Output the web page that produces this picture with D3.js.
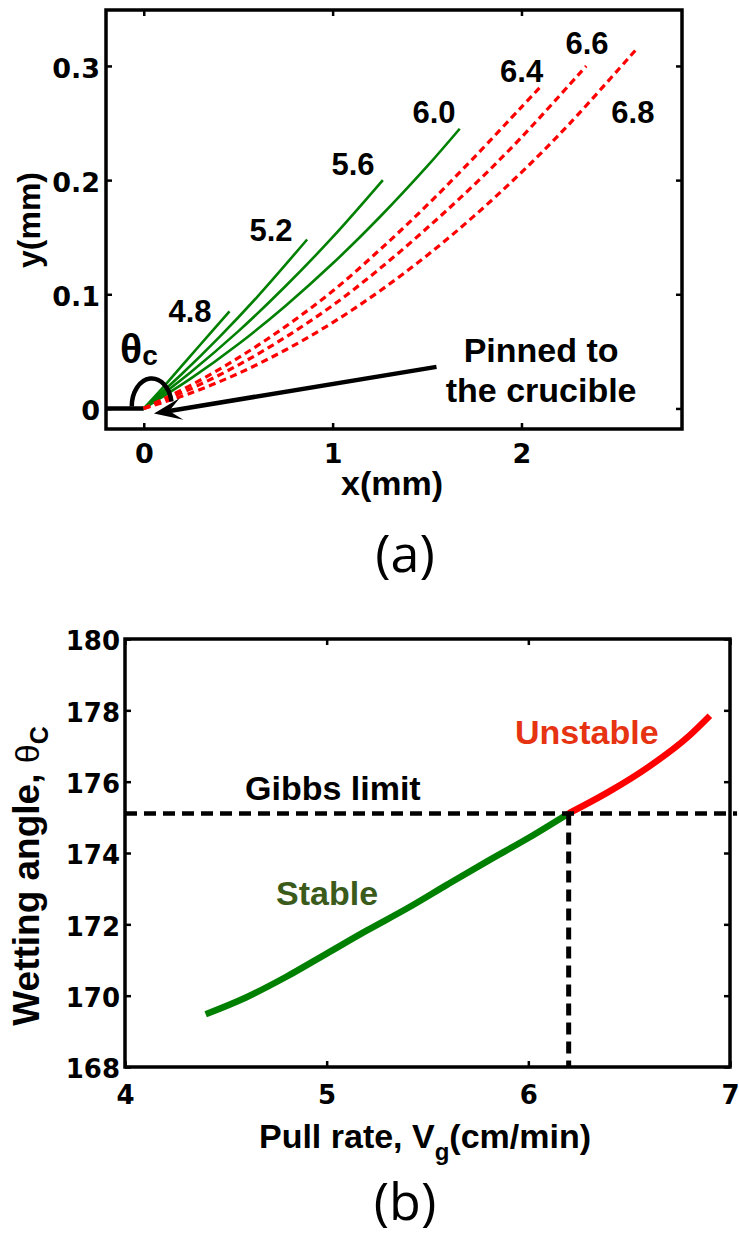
<!DOCTYPE html>
<html>
<head>
<meta charset="utf-8">
<script src="https://cdn.jsdelivr.net/npm/d3@7"></script>
<style>
  body { margin: 0; background: #fff; }
  svg { display: block; }
</style>
</head>
<body>
<svg id="fig" width="739" height="1245"></svg>
<script>
// ---------- Panel (a): meniscus profiles, x and y in mm ----------
const pullRatesA = [4.8, 5.2, 5.6, 6.0, 6.4, 6.6, 6.8];
const profile48 = [[0, 0], [0.1, 0.018], [0.2, 0.037], [0.3, 0.056], [0.454, 0.085]];
const profile52 = [[0, 0], [0.2, 0.030], [0.4, 0.0625], [0.6, 0.0976], [0.865, 0.148]];
const profile56 = [[0, 0], [0.25, 0.032], [0.5, 0.0675], [0.75, 0.107], [1.0, 0.150], [1.266, 0.200]];
const profile60 = [[0, 0], [0.25, 0.0263], [0.5, 0.0562], [0.75, 0.0898], [1.0, 0.1269], [1.25, 0.1677], [1.5, 0.212], [1.673, 0.245]];
const profile64 = [[0, 0], [0.25, 0.0204], [0.5, 0.0443], [0.75, 0.0717], [1.0, 0.1028], [1.25, 0.139], [1.5, 0.178], [1.75, 0.220], [2.0, 0.264], [2.105, 0.2825]];
const profile66 = [[0, 0], [0.25, 0.0173], [0.5, 0.038], [0.75, 0.0624], [1.0, 0.0902], [1.25, 0.1225], [1.5, 0.158], [1.75, 0.196], [2.0, 0.2375], [2.343, 0.300]];
const profile68 = [[0, 0], [0.25, 0.0136], [0.5, 0.0306], [0.75, 0.0512], [1.0, 0.0752], [1.25, 0.1029], [1.5, 0.134], [1.75, 0.1687], [2.0, 0.2068], [2.25, 0.2486], [2.61, 0.315]];
const profilesA = [profile48, profile52, profile56, profile60, profile64, profile66, profile68];
const xTicksA = [0, 1, 2];
const yTicksA = [0, 0.1, 0.2, 0.3];

// ---------- Panel (b): wetting angle vs pull rate ----------
const pullRateB = [4.4, 4.6, 4.8, 5.0, 5.2, 5.4, 5.6, 5.8, 6.0, 6.2, 6.4, 6.6, 6.8, 6.9];
const wettingAngle = [169.48, 169.95, 170.53, 171.18, 171.83, 172.45, 173.12, 173.78, 174.42, 175.11, 175.72, 176.43, 177.30, 177.85];
const gibbsLimit = 175.11;      // degrees
const criticalRate = 6.2;       // cm/min
const xTicksB = [4, 5, 6, 7];
const yTicksB = [168, 170, 172, 174, 176, 178, 180];

const svg = d3.select("#fig");
svg.append("rect").attr("width", 739).attr("height", 1245).attr("fill", "#fff");

const BOLD = "'Liberation Sans', Arial, Helvetica, sans-serif";
const TICKFONT = "'DejaVu Sans', sans-serif";

// Boxed axes with inward ticks on all four sides
function boxAxes(g, x, y, xt, yt, xfmt, yfmt, xpad, ypad, fontSize) {
  const [x0, x1] = x.range();
  const [y0, y1] = y.range();
  const bottom = g.append("g").attr("transform", `translate(0,${y0})`)
    .call(d3.axisBottom(x).tickValues(xt).tickSize(-6).tickPadding(xpad).tickFormat(xfmt));
  g.append("g").attr("transform", `translate(0,${y1})`)
    .call(d3.axisTop(x).tickValues(xt).tickSize(-6).tickFormat(""));
  const left = g.append("g").attr("transform", `translate(${x0},0)`)
    .call(d3.axisLeft(y).tickValues(yt).tickSize(-6).tickPadding(ypad).tickFormat(yfmt));
  g.append("g").attr("transform", `translate(${x1},0)`)
    .call(d3.axisRight(y).tickValues(yt).tickSize(-6).tickFormat(""));
  g.selectAll(".domain").remove();
  g.selectAll(".tick line").attr("stroke", "#000").attr("stroke-width", 2.5);
  g.selectAll(".tick text")
    .attr("font-family", TICKFONT).attr("font-weight", "bold")
    .attr("font-size", fontSize).attr("fill", "#000");
  left.selectAll(".tick text").attr("dy", "0.42em");
  g.append("rect").attr("x", x0).attr("y", y1)
    .attr("width", x1 - x0).attr("height", y0 - y1)
    .attr("fill", "none").attr("stroke", "#000").attr("stroke-width", 3.5);
}

// ================= Panel (a) =================
const xA = d3.scaleLinear().domain([-0.2, 2.85]).range([106, 682]);
const yA = d3.scaleLinear().domain([-0.018, 0.349]).range([429, 10]);
const gA = svg.append("g");

// crucible edge (horizontal) ending at the pinning point
gA.append("line")
  .attr("x1", xA(-0.2)).attr("x2", xA(0))
  .attr("y1", yA(0)).attr("y2", yA(0))
  .attr("stroke", "#000").attr("stroke-width", 4.5);

const lineA = d3.line().x(d => xA(d[0])).y(d => yA(d[1])).curve(d3.curveCatmullRom);
profilesA.forEach((p, i) => {
  const stable = pullRatesA[i] < criticalRate;
  gA.append("path").attr("d", lineA(p))
    .attr("fill", "none")
    .attr("stroke", stable ? "#008000" : "#ff0000")
    .attr("stroke-width", stable ? 2.6 : 3.2)
    .attr("stroke-dasharray", stable ? null : "7,4.5");
});

boxAxes(gA, xA, yA, xTicksA, yTicksA,
  d => d3.format("d")(d),
  d => d === 0 ? "0" : d3.format(".1f")(d), 15, 6, 27);

// curve labels (pull rate in cm/min)
const labelPosA = [[0.245, 0.0758], [0.674, 0.1468], [1.108, 0.2043], [1.537, 0.2501], [2.001, 0.286], [2.347, 0.3102], [2.59, 0.2501]];
pullRatesA.forEach((r, i) => {
  gA.append("text")
    .attr("x", xA(labelPosA[i][0])).attr("y", yA(labelPosA[i][1]))
    .attr("text-anchor", "middle")
    .attr("font-family", BOLD).attr("font-weight", "bold").attr("font-size", 31)
    .text(d3.format(".1f")(r));
});

// contact angle arc at the pinning point
{
  const cx = xA(0) + 8, cy = yA(0) - 2, rx = 20, ry = 28, a = 10 * Math.PI / 180;
  gA.append("path")
    .attr("d", `M${cx - rx},${cy} A${rx},${ry} 0 0 1 ${cx + rx * Math.cos(a)},${cy - ry * Math.sin(a)}`)
    .attr("fill", "none").attr("stroke", "#000").attr("stroke-width", 4.5);
  const t = gA.append("text")
    .attr("x", xA(-0.126)).attr("y", yA(0.0394))
    .attr("font-family", BOLD).attr("font-weight", "bold").attr("font-size", 41);
  t.append("tspan").text("θ");
  t.append("tspan").attr("font-size", 28).attr("dy", 2).text("c");
}

// "Pinned to the crucible" arrow
{
  const tail = [xA(1.55), yA(0.0364)];
  const tip = [xA(0.054), yA(-0.0044)];
  const dx = tip[0] - tail[0], dy = tip[1] - tail[1], len = Math.hypot(dx, dy);
  const ux = dx / len, uy = dy / len, nx = -uy, ny = ux;
  const L = 28, W = 11;
  const notch = [tip[0] - 0.55 * L * ux, tip[1] - 0.55 * L * uy];
  gA.append("line")
    .attr("x1", tail[0]).attr("y1", tail[1]).attr("x2", notch[0]).attr("y2", notch[1])
    .attr("stroke", "#000").attr("stroke-width", 4.5);
  gA.append("path")
    .attr("d", `M${tip[0]},${tip[1]} L${tip[0] - L * ux + W * nx},${tip[1] - L * uy + W * ny} L${notch[0]},${notch[1]} L${tip[0] - L * ux - W * nx},${tip[1] - L * uy - W * ny} Z`)
    .attr("fill", "#000");
  [["Pinned to", 0.0408], ["the crucible", 0.0058]].forEach(([s, yy]) => {
    gA.append("text").attr("x", xA(2.104)).attr("y", yA(yy))
      .attr("text-anchor", "middle")
      .attr("font-family", BOLD).attr("font-weight", "bold").attr("font-size", 34)
      .text(s);
  });
}

// axis titles
gA.append("text").attr("x", 392).attr("y", 495).attr("text-anchor", "middle")
  .attr("font-family", BOLD).attr("font-weight", "bold").attr("font-size", 34).text("x(mm)");
gA.append("text").attr("transform", "translate(40,220) rotate(-90)").attr("text-anchor", "middle")
  .attr("font-family", BOLD).attr("font-weight", "bold").attr("font-size", 32).text("y(mm)");
gA.append("text").attr("x", 405).attr("y", 572).attr("text-anchor", "middle")
  .attr("font-family", "'Open Sans', sans-serif").attr("font-size", 52).text("(a)");

// ================= Panel (b) =================
const xB = d3.scaleLinear().domain([4, 7]).range([125, 730]);
const yB = d3.scaleLinear().domain([168, 180]).range([1067, 639]);
const gB = svg.append("g");

const pts = pullRateB.map((v, i) => [v, wettingAngle[i]]);
const stablePts = pts.filter(d => d[0] <= criticalRate);
const unstablePts = pts.filter(d => d[0] >= criticalRate);
const lineB = d3.line().x(d => xB(d[0])).y(d => yB(d[1])).curve(d3.curveMonotoneX);

gB.append("path").attr("d", lineB(stablePts))
  .attr("fill", "none").attr("stroke", "#008000").attr("stroke-width", 6.5);
gB.append("path").attr("d", lineB(unstablePts))
  .attr("fill", "none").attr("stroke", "#ff0000").attr("stroke-width", 6.5);

// Gibbs limit markers
gB.append("line")
  .attr("x1", xB(4)).attr("x2", xB(7.035))
  .attr("y1", yB(gibbsLimit)).attr("y2", yB(gibbsLimit))
  .attr("stroke", "#000").attr("stroke-width", 4.5).attr("stroke-dasharray", "12,7");
gB.append("line")
  .attr("x1", xB(criticalRate)).attr("x2", xB(criticalRate))
  .attr("y1", yB(gibbsLimit)).attr("y2", yB(168))
  .attr("stroke", "#000").attr("stroke-width", 5).attr("stroke-dasharray", "12,7");

boxAxes(gB, xB, yB, xTicksB, yTicksB, d3.format("d"), d3.format("d"), 19, 5, 26);

gB.append("text").attr("x", xB(4.595)).attr("y", yB(175.49))
  .attr("font-family", BOLD).attr("font-weight", "bold").attr("font-size", 34).text("Gibbs limit");
gB.append("text").attr("x", xB(5.934)).attr("y", yB(177.07))
  .attr("font-family", BOLD).attr("font-weight", "bold").attr("font-size", 34)
  .attr("fill", "#e63312").text("Unstable");
gB.append("text").attr("x", xB(4.749)).attr("y", yB(172.54))
  .attr("font-family", BOLD).attr("font-weight", "bold").attr("font-size", 34)
  .attr("fill", "#3b5b1b").text("Stable");

// axis titles
{
  const t = gB.append("text").attr("x", 425).attr("y", 1148).attr("text-anchor", "middle")
    .attr("font-family", BOLD).attr("font-weight", "bold").attr("font-size", 34);
  t.append("tspan").text("Pull rate, V");
  t.append("tspan").attr("font-size", 24).attr("dy", 12).text("g");
  t.append("tspan").attr("dy", -12).text("(cm/min)");
}
{
  const t = gB.append("text").attr("transform", "translate(39,876) rotate(-90)").attr("text-anchor", "middle")
    .attr("font-family", BOLD).attr("font-weight", "bold").attr("font-size", 37);
  t.append("tspan").text("Wetting angle, ");
  t.append("tspan").attr("font-weight", "normal").attr("font-size", 34).text("θ");
  t.append("tspan").attr("font-size", 25).attr("dy", 9).text("C");
}
gB.append("text").attr("x", 405).attr("y", 1220).attr("text-anchor", "middle")
  .attr("font-family", "'Open Sans', sans-serif").attr("font-size", 52).text("(b)");
</script>
</body>
</html>
